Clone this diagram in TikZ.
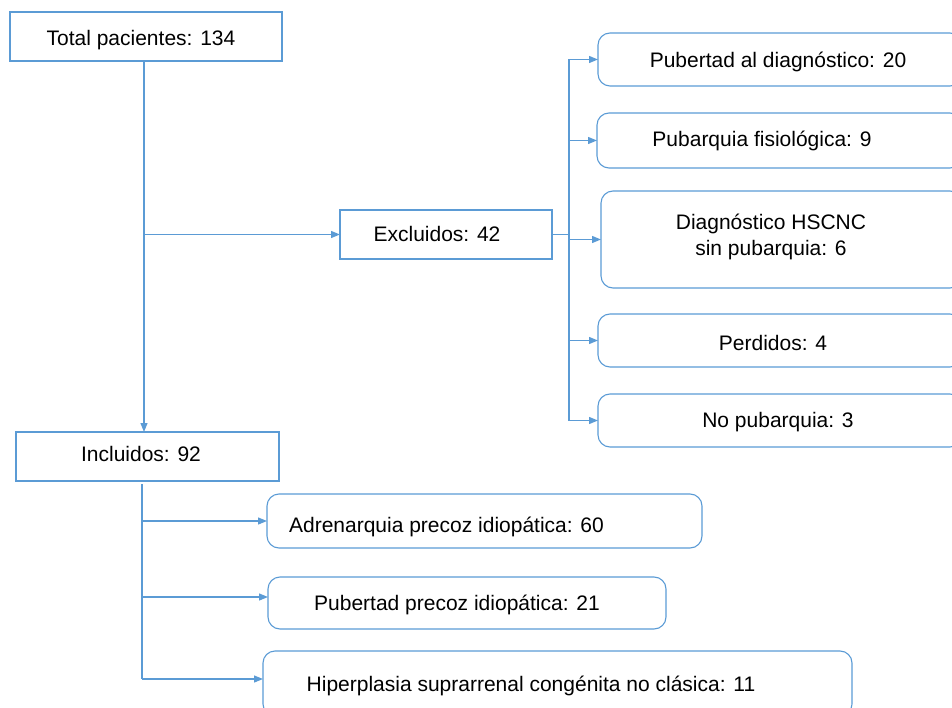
\documentclass[tikz,border=0pt]{standalone}
\usepackage{fontspec}
\setmainfont{Liberation Sans}
\usetikzlibrary{arrows.meta}
\definecolor{lb}{HTML}{5B9BD5}
\begin{document}
\begin{tikzpicture}[x=1pt,y=-1pt,
  sq/.style={draw=lb, line width=1.1pt, inner sep=0pt, outer sep=0pt},
  rb/.style={sq, rounded corners=12pt},
  lbl/.style={font=\fontsize{21}{25.3}\selectfont, inner sep=0pt, align=center, text=black},
  conn/.style={draw=lb, line width=1.2pt},
  arr/.style={conn, -{Triangle[length=9pt,width=7pt]}}]
\useasboundingbox (0,0) rectangle (952,708);
\begin{scope}
\clip (0,0) rectangle (952,708);
% boxes
\node[sq, minimum width=272pt, minimum height=49pt] (total) at (146,36.5) {};
\node[sq, minimum width=212pt, minimum height=49pt] (excl) at (446,234.5) {};
\node[sq, minimum width=263pt, minimum height=49pt] (incl) at (147.5,456.5) {};
\node[rb, minimum width=364pt, minimum height=53pt] (r1) at (780,59.5) {};
\node[rb, minimum width=365pt, minimum height=55pt] (r2) at (779.5,140.5) {};
\node[rb, minimum width=361pt, minimum height=97pt] (r3) at (781.5,239.5) {};
\node[rb, minimum width=364pt, minimum height=53pt] (r4) at (780,340.5) {};
\node[rb, minimum width=364pt, minimum height=53pt] (r5) at (780,420.5) {};
\node[rb, minimum width=435pt, minimum height=54pt] (b1) at (484.5,521) {};
\node[rb, minimum width=398pt, minimum height=52pt] (b2) at (467,603) {};
\node[rb, minimum width=589pt, minimum height=65pt] (b3) at (557.5,683.5) {};
% texts
\node[lbl, anchor=base] (ttotal) at (141,46) {Total pacientes: 134};
\node[lbl, anchor=base] (texcl) at (437,242) {Excluidos: 42};
\node[lbl, anchor=base] (tincl) at (141,461) {Incluidos: 92};
\node[lbl, anchor=base] (tr1) at (778,68) {Pubertad al diagnóstico: 20};
\node[lbl, anchor=base] (tr2) at (762,147) {Pubarquia fisiológica: 9};
\node[lbl] (tr3) at (771,237) {Diagnóstico HSCNC\\ sin pubarquia: 6};
\node[lbl, anchor=base] (tr4) at (773,350) {Perdidos: 4};
\node[lbl, anchor=base] (tr5) at (778,427) {No pubarquia: 3};
\node[lbl, anchor=base] (tb1) at (446.5,532) {Adrenarquia precoz idiopática: 60};
\node[lbl, anchor=base] (tb2) at (457,610) {Pubertad precoz idiopática: 21};
\node[lbl, anchor=base] (tb3) at (531,691) {Hiperplasia suprarrenal congénita no clásica: 11};
% connector helpers
\coordinate (sp1) at (144,0);
\coordinate (bus) at (569,0);
\coordinate (sp2) at (142,0);
\coordinate (a1) at (b1.west);
\coordinate (a2) at ([yshift=6pt]b2.west);
\coordinate (a3) at ([yshift=4.5pt]b3.west);
% connectors
\draw[arr] (total.south -| sp1) -- (incl.north -| sp1);
\draw[arr] (sp1 |- excl.west) -- (excl.west);
\draw[conn] (excl.east) -- (excl.east -| bus);
\draw[conn] (bus |- r1.west) -- (bus |- r5.west);
\foreach \r in {r1,r2,r3,r4,r5} {\draw[arr] (bus |- \r.west) -- (\r.west);}
\draw[conn] ([yshift=-3pt]incl.south -| sp2) -- (sp2 |- a3);
\foreach \a in {a1,a2,a3} {\draw[arr] (sp2 |- \a) -- (\a);}
\end{scope}
\end{tikzpicture}
\end{document}
